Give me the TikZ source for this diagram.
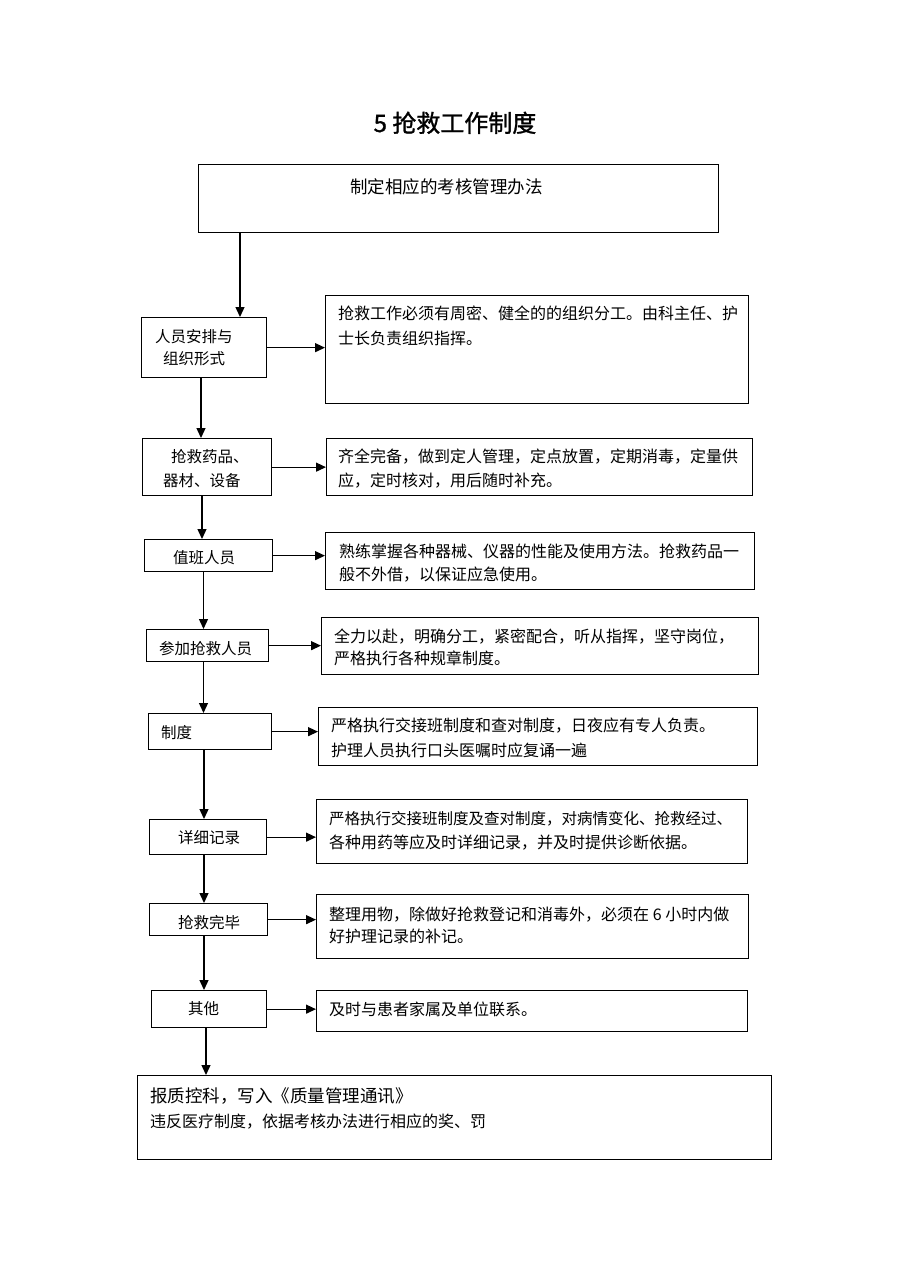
\documentclass[tikz,border=0pt]{standalone}
\usepackage{fontspec}
\setmainfont{Noto Sans CJK SC}
\newfontfamily\titlefont{Noto Sans CJK SC}[FakeBold=1.2]
\usetikzlibrary{arrows.meta}
\begin{document}
\begin{tikzpicture}[x=1pt,y=-1pt,
  box/.style={draw, line width=1.3pt, inner sep=0pt, anchor=north west},
  arr/.style={line width=1.3pt, -{Triangle[length=10pt,width=9pt]}},
  txt/.style={anchor=base west, inner sep=0pt, font=\fontsize{16}{16}\selectfont},
  ltxt/.style={anchor=base west, inner sep=0pt, font=\fontsize{15.5}{15.5}\selectfont},
  btxt/.style={anchor=base west, inner sep=0pt, font=\fontsize{17.5}{17.5}\selectfont}]
\useasboundingbox[fill=white] (0,0) rectangle (910,1287);
% title
\node[anchor=base, inner sep=0pt, font=\fontsize{24}{24}\titlefont] (title) at (455,132) {5 抢救工作制度};
% boxes
\node[box, minimum width=520pt, minimum height=68pt] (top) at (198,164) {};
\node[box, minimum width=125pt, minimum height=60pt] (L1) at (141,317) {};
\node[box, minimum width=423pt, minimum height=108pt] (R1) at (325,295) {};
\node[box, minimum width=129pt, minimum height=57pt] (L2) at (142,438) {};
\node[box, minimum width=426pt, minimum height=57pt] (R2) at (326,438) {};
\node[box, minimum width=128pt, minimum height=32pt] (L3) at (144,539) {};
\node[box, minimum width=429pt, minimum height=57pt] (R3) at (325,532) {};
\node[box, minimum width=122pt, minimum height=32pt] (L4) at (146,629) {};
\node[box, minimum width=437pt, minimum height=57pt] (R4) at (321,617) {};
\node[box, minimum width=123pt, minimum height=36pt] (L5) at (148,713) {};
\node[box, minimum width=439pt, minimum height=58pt] (R5) at (318,707) {};
\node[box, minimum width=117pt, minimum height=35pt] (L6) at (149,819) {};
\node[box, minimum width=431pt, minimum height=64pt] (R6) at (316,799) {};
\node[box, minimum width=118pt, minimum height=32pt] (L7) at (149,903) {};
\node[box, minimum width=432pt, minimum height=64pt] (R7) at (316,894) {};
\node[box, minimum width=115pt, minimum height=37pt] (L8) at (151,990) {};
\node[box, minimum width=431pt, minimum height=41pt] (R8) at (316,990) {};
\node[box, minimum width=634pt, minimum height=84pt] (bot) at (137,1075) {};
% texts
\node[btxt] (ttop) at (350,193) {制定相应的考核管理办法};
\node[ltxt] (tL1a) at (155,342) {人员安排与};
\node[ltxt] (tL1b) at (163,364) {组织形式};
\node[txt] (tR1a) at (338,319) {抢救工作必须有周密、健全的的组织分工。由科主任、护};
\node[txt] (tR1b) at (338,344) {士长负责组织指挥。};
\node[ltxt] (tL2a) at (171,462) {抢救药品、};
\node[ltxt] (tL2b) at (163,486) {器材、设备};
\node[txt] (tR2a) at (338,462) {齐全完备，做到定人管理，定点放置，定期消毒，定量供};
\node[txt] (tR2b) at (338,486) {应，定时核对，用后随时补充。};
\node[ltxt] (tL3) at (173,563) {值班人员};
\node[txt] (tR3a) at (339,557) {熟练掌握各种器械、仪器的性能及使用方法。抢救药品一};
\node[txt] (tR3b) at (339,580) {般不外借，以保证应急使用。};
\node[ltxt] (tL4) at (159,654) {参加抢救人员};
\node[txt] (tR4a) at (334,642) {全力以赴，明确分工，紧密配合，听从指挥，坚守岗位，};
\node[txt] (tR4b) at (334,664) {严格执行各种规章制度。};
\node[ltxt] (tL5) at (161,738) {制度};
\node[txt] (tR5a) at (331,731) {严格执行交接班制度和查对制度，日夜应有专人负责。};
\node[txt] (tR5b) at (331,756) {护理人员执行口头医嘱时应复诵一遍};
\node[ltxt] (tL6) at (178,843) {详细记录};
\node[ltxt] (tR6a) at (329,824) {严格执行交接班制度及查对制度，对病情变化、抢救经过、};
\node[txt] (tR6b) at (329,848) {各种用药等应及时详细记录，并及时提供诊断依据。};
\node[ltxt] (tL7) at (178,928) {抢救完毕};
\node[txt] (tR7a) at (329,920) {整理用物，除做好抢救登记和消毒外，必须在 6 小时内做};
\node[txt] (tR7b) at (329,942) {好护理记录的补记。};
\node[ltxt] (tL8) at (188,1014) {其他};
\node[txt] (tR8) at (329,1015) {及时与患者家属及单位联系。};
\node[btxt] (tba) at (150,1102) {报质控科，写入《质量管理通讯》};
\node[txt] (tbb) at (150,1127) {违反医疗制度，依据考核办法进行相应的奖、罚};
% vertical connector positions
\coordinate (v1) at (240,0);
\coordinate (v2) at (201,0);
\coordinate (v3) at (202,0);
\coordinate (v4) at (203.5,0);
\coordinate (v5) at (203.5,0);
\coordinate (v6) at (204,0);
\coordinate (v7) at (204,0);
\coordinate (v8) at (204,0);
\coordinate (v9) at (206,0);
\draw[arr] (top.south -| v1) -- (L1.north -| v1);
\draw[arr] (L1.south -| v2) -- (L2.north -| v2);
\draw[arr] (L2.south -| v3) -- (L3.north -| v3);
\draw[arr] (L3.south -| v4) -- (L4.north -| v4);
\draw[arr] (L4.south -| v5) -- (L5.north -| v5);
\draw[arr] (L5.south -| v6) -- (L6.north -| v6);
\draw[arr] (L6.south -| v7) -- (L7.north -| v7);
\draw[arr] (L7.south -| v8) -- (L8.north -| v8);
\draw[arr] (L8.south -| v9) -- (bot.north -| v9);
% horizontal connectors
\draw[arr] (L1.east) -- (L1.east -| R1.west);
\draw[arr] (L2.east) -- (L2.east -| R2.west);
\draw[arr] (L3.east) -- (L3.east -| R3.west);
\draw[arr] (L4.east) -- (L4.east -| R4.west);
\draw[arr] (L5.east) -- (L5.east -| R5.west);
\draw[arr] (L6.east) -- (L6.east -| R6.west);
\draw[arr] (L7.east) -- (L7.east -| R7.west);
\draw[arr] (L8.east) -- (L8.east -| R8.west);
\end{tikzpicture}
\end{document}
